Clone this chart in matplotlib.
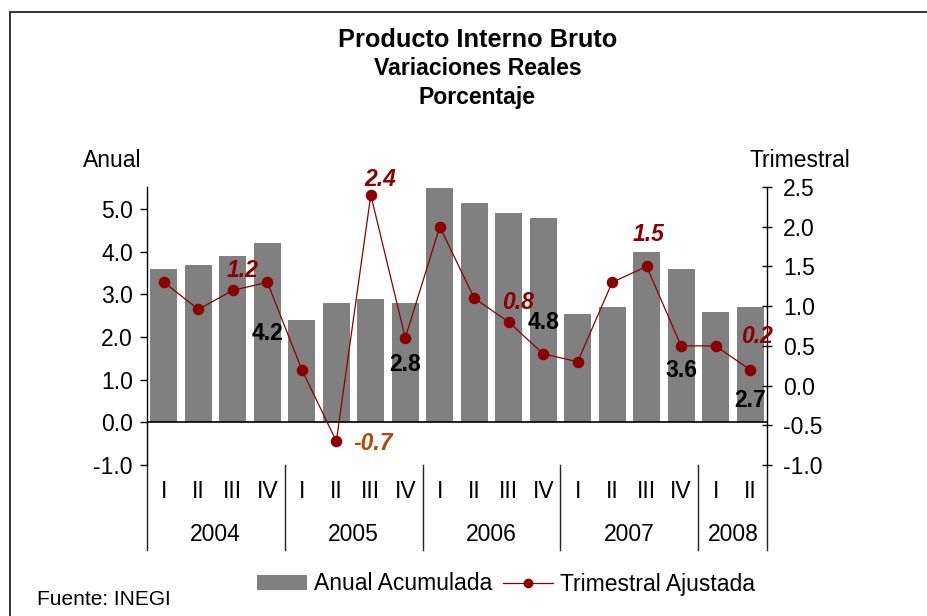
import numpy as np
import matplotlib
matplotlib.use("Agg")
import matplotlib.pyplot as plt
from matplotlib.patches import Patch
from matplotlib.lines import Line2D
import matplotlib.transforms as mtransforms

plt.rcParams['font.family'] = ['Liberation Sans', 'DejaVu Sans']

# Datos (variación % real del PIB)
trimestres = ['I', 'II', 'III', 'IV'] * 4 + ['I', 'II']
anios = ['2004', '2005', '2006', '2007', '2008']
trim_por_anio = [4, 4, 4, 4, 2]
anual_acum = [3.6, 3.7, 3.9, 4.2, 2.4, 2.8, 2.9, 2.8, 5.5, 5.15, 4.9, 4.8,
              2.55, 2.7, 4.0, 3.6, 2.6, 2.7]
trim_ajust = [1.3, 0.96, 1.2, 1.3, 0.2, -0.7, 2.4, 0.6, 2.0, 1.1, 0.8, 0.4,
              0.3, 1.3, 1.5, 0.5, 0.5, 0.2]

# etiquetas de barras: indice y altura del texto (eje izquierdo)
idx_anual = [3, 7, 11, 15, 17]
y_txt_anual = [2.09, 1.36, 2.35, 1.22, 0.52]
# etiquetas de la linea: indice, desplazamiento en pixeles, color
idx_trim = [2, 5, 6, 10, 14, 17]
off_trim = [(10, 20), (37, -2), (9, 15), (9, 20), (2, 32), (7, 33)]
col_trim = ['#8B0000', '#B5470B', '#8B0000', '#8B0000', '#8B0000', '#8B0000']

rojo = '#8B0000'
gris = '#808080'
fs = 16.5

fig = plt.figure(figsize=(9.27, 6.16), dpi=100)
ax = fig.add_axes([146.7 / 927, 0.2451, 620.6 / 927, 0.4513])
ax2 = ax.twinx()

x = np.arange(len(anual_acum))
ax.bar(x, anual_acum, width=0.78, color=gris, zorder=2)
ax.axhline(0, color='black', lw=1.2, zorder=3)
ax.set_xlim(-0.5, len(x) - 0.5)
ax.set_ylim(-1, 5.52)
ax.set_yticks(np.arange(-1, 5.1, 1.0))
ax.set_yticklabels([f'{v:.1f}' for v in np.arange(-1, 5.1, 1.0)])
ax.tick_params(axis='y', direction='out', length=5, width=1, pad=5, labelsize=fs)
ax.set_xticks([])
for s in ['top', 'right', 'bottom']:
    ax.spines[s].set_visible(False)
ax.spines['left'].set_linewidth(1)

ax2.plot(x, trim_ajust, color=rojo, lw=0.9, marker='o', markersize=7.3, zorder=4)
ax2.set_ylim(-1, 2.5)
ax2.set_yticks(np.arange(-1, 2.51, 0.5))
ax2.set_yticklabels([f'{v:.1f}' for v in np.arange(-1, 2.51, 0.5)])
ax2.tick_params(axis='y', direction='inout', length=7, width=1, pad=8, labelsize=fs)
for s in ['top', 'left', 'bottom']:
    ax2.spines[s].set_visible(False)
ax2.spines['right'].set_linewidth(1)

# etiquetas de valores
for i, yt in zip(idx_anual, y_txt_anual):
    ax.text(x[i], yt, f'{anual_acum[i]:.1f}', ha='center', va='center',
            fontsize=fs, fontweight='bold', color='black', zorder=5)
for i, off, c in zip(idx_trim, off_trim, col_trim):
    ax2.annotate(f'{trim_ajust[i]:.1f}', (x[i], trim_ajust[i]), xytext=off,
                 textcoords='offset pixels', ha='center', va='center',
                 fontsize=fs, fontweight='bold', fontstyle='italic', color=c,
                 zorder=6)

# eje de categorias (trimestres / años)
trans = mtransforms.blended_transform_factory(ax.transData, ax.transAxes)
for xi, t in zip(x, trimestres):
    ax.text(xi, -0.118, t, transform=trans, ha='center', va='baseline', fontsize=fs)
bordes = np.concatenate([[0], np.cumsum(trim_por_anio)]) - 0.5
for b in bordes:
    ax.plot([b, b], [0, -0.305], transform=trans, color='#222222', lw=1, clip_on=False)
for k, a in enumerate(anios):
    ax.text((bordes[k] + bordes[k + 1]) / 2, -0.275, a, transform=trans,
            ha='center', va='baseline', fontsize=fs)

# titulos
fig.text(0.515, 1 - 46.7 / 616, 'Producto Interno Bruto', ha='center', va='baseline',
         fontsize=18.3, fontweight='bold')
fig.text(0.515, 1 - 75 / 616, 'Variaciones Reales', ha='center', va='baseline',
         fontsize=16.6, fontweight='bold')
fig.text(0.515, 1 - 104 / 616, 'Porcentaje', ha='center', va='baseline',
         fontsize=16.6, fontweight='bold')
fig.text(83 / 927, 1 - 166.7 / 616, 'Anual', ha='left', va='baseline', fontsize=fs)
fig.text(750 / 927, 1 - 167 / 616, 'Trimestral', ha='left', va='baseline', fontsize=fs)
fig.text(37 / 927, 1 - 605 / 616, 'Fuente: INEGI', ha='left', va='baseline', fontsize=15)

# leyenda
handles = [Patch(facecolor=gris, edgecolor='none'),
           Line2D([], [], color=rojo, lw=0.9, marker='o', markersize=6)]
fig.legend(handles, ['Anual Acumulada', 'Trimestral Ajustada'], loc='center',
           bbox_to_anchor=(506 / 927, 1 - 584 / 616), ncol=2, frameon=False,
           fontsize=fs, handlelength=2.2, handleheight=0.65, handletextpad=0.3,
           columnspacing=0.45, borderpad=0)

# marco
fig.add_artist(Line2D([9.5 / 927, 9.5 / 927], [0, 1 - 12.3 / 616],
                      transform=fig.transFigure, color='#333333', lw=1.4))
fig.add_artist(Line2D([9.5 / 927, 1], [1 - 12.3 / 616, 1 - 12.3 / 616],
                      transform=fig.transFigure, color='#333333', lw=1.4))

fig.savefig('out.png', dpi=100)
